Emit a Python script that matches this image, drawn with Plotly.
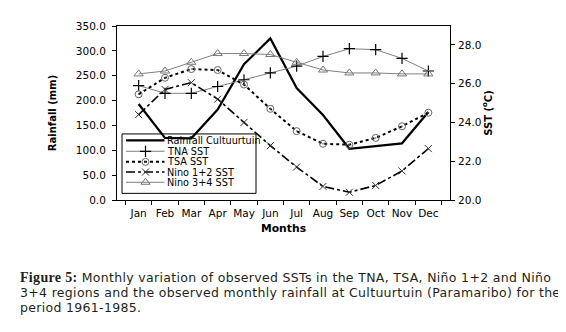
import plotly.graph_objects as go

months = ['Jan', 'Feb', 'Mar', 'Apr', 'May', 'Jun', 'Jul', 'Aug', 'Sep', 'Oct', 'Nov', 'Dec']
rainfall = [193, 125, 124, 182, 273, 325, 225, 171, 103, 108, 114, 177]
tna_sst = [25.9, 25.5, 25.5, 25.85, 26.2, 26.55, 26.9, 27.4, 27.8, 27.75, 27.3, 26.65]
tsa_sst = [25.45, 26.3, 26.75, 26.7, 25.95, 24.7, 23.55, 22.9, 22.85, 23.2, 23.8, 24.5]
nino12_sst = [24.4, 25.7, 26.05, 25.2, 24.0, 22.8, 21.7, 20.7, 20.4, 20.75, 21.5, 22.65]
nino34_sst = [26.5, 26.65, 27.1, 27.55, 27.55, 27.5, 27.1, 26.7, 26.55, 26.55, 26.5, 26.5]

legend_names = ['Rainfall Cultuurtuin', 'TNA SST', 'TSA SST', 'Nino 1+2 SST', 'Nino 3+4 SST']

FONT = 'DejaVu Sans, Liberation Sans, sans-serif'

styles = [
    dict(line=dict(color='black', width=2.2), mode='lines', marker=dict()),
    dict(line=dict(color='#808080', width=1), mode='lines+markers',
         marker=dict(symbol='cross-thin', size=8, line=dict(color='black', width=1.2))),
    dict(line=dict(color='black', width=2, dash='dot'), mode='lines+markers',
         marker=dict(symbol='circle-dot', size=7, color='rgba(0,0,0,0)', line=dict(color='#666', width=1))),
    dict(line=dict(color='black', width=1.6, dash='dashdot'), mode='lines+markers',
         marker=dict(symbol='x-thin', size=7, line=dict(color='#333', width=1))),
    dict(line=dict(color='#808080', width=1), mode='lines+markers',
         marker=dict(symbol='triangle-up-open', size=8, color='#777', line=dict(color='#777', width=1))),
]

fig = go.Figure()
fig.add_trace(go.Scatter(x=months, y=rainfall, name=legend_names[0], yaxis='y',
                         showlegend=False, **styles[0]))
for name, vals, st in zip(legend_names[1:], [tna_sst, tsa_sst, nino12_sst, nino34_sst], styles[1:]):
    fig.add_trace(go.Scatter(x=months, y=vals, name=name, yaxis='y2', showlegend=False, **st))

# manual legend (pixel-like coordinates on hidden overlay axes)
leg_y = [131.5, 142.5, 153.2, 163.5, 173.8]
for name, ly, st in zip(legend_names, leg_y, styles):
    fig.add_trace(go.Scatter(x=[118, 156.5], y=[ly, ly], xaxis='x3', yaxis='y3', mode='lines',
                             line=st['line'], showlegend=False, hoverinfo='skip'))
    if st['mode'] == 'lines+markers':
        fig.add_trace(go.Scatter(x=[137.5], y=[ly], xaxis='x3', yaxis='y3', mode='markers',
                                 marker=st['marker'], showlegend=False, hoverinfo='skip'))
    fig.add_annotation(x=157, y=ly, xref='x3', yref='y3', text=name, showarrow=False,
                       xanchor='left', yanchor='middle', font=dict(family=FONT, size=9.7, color='black'))
fig.add_shape(type='rect', x0=114, x1=248, y0=125, y1=185, xref='x3', yref='y3',
              line=dict(color='black', width=1), fillcolor='rgba(0,0,0,0)')

tickfont = dict(family=FONT, size=10.5, color='black')
axis_common = dict(showline=True, linecolor='black', linewidth=1, ticks='outside', ticklen=4,
                   tickcolor='black', showgrid=False, zeroline=False, tickfont=tickfont)
inner = dict(showline=False, ticks='inside', tickcolor='black', showgrid=False, zeroline=False,
             showticklabels=False)

fig.update_layout(
    width=566, height=332,
    margin=dict(l=109, r=124, t=16, b=140),
    paper_bgcolor='white', plot_bgcolor='white',
    showlegend=False,
    xaxis=dict(type='category', categoryorder='array', categoryarray=months, tickson='boundaries',
               mirror=True, ticklabelstandoff=3, tickangle=0,
               title=dict(text='<b>Months</b>', font=dict(family=FONT, size=10.8, color='black'), standoff=6),
               **axis_common),
    yaxis=dict(range=[0, 350], dtick=50, tickformat='.1f', ticklabelstandoff=4,
               title=dict(text='<b>Rainfall (mm)</b>', font=dict(family=FONT, size=10, color='black'), standoff=17),
               **axis_common),
    yaxis2=dict(range=[20, 28.97], tick0=20, dtick=2, tickformat='.1f', overlaying='y', side='right',
                ticklabelstandoff=1,
                title=dict(text='<b>SST (<sup>o</sup>C)</b>', font=dict(family=FONT, size=10, color='black'), standoff=0),
                **axis_common),
    xaxis3=dict(overlaying='x', range=[109, 442], visible=False, anchor='y3'),
    yaxis3=dict(overlaying='y', range=[191.7, 16], visible=False, anchor='x3'),
    xaxis4=dict(overlaying='x', range=[0, 12], dtick=1, tick0=0, ticklen=3, anchor='y', **inner),
    yaxis4=dict(overlaying='y', range=[0, 350], dtick=50, ticklen=4, side='left', anchor='x', **inner),
    yaxis5=dict(overlaying='y', range=[20, 28.97], tick0=20, dtick=2, ticklen=5, side='right', anchor='x', **inner),
)

cap_font = dict(family='DejaVu Sans, sans-serif', size=12.5, color='#231f20')
LS = "<span style='letter-spacing:0.32px'>"
caption = [
    LS + "<span style='font-family:Liberation Serif;font-weight:bold;font-size:14px'>Figure 5:</span> "
    "Monthly variation of observed SSTs in the TNA, TSA, Niño 1+2 and Niño</span>",
    LS + "3+4 regions and the observed monthly rainfall at Cultuurtuin (Paramaribo) for the</span>",
    LS + "period 1961-1985.</span>",
]
for line, py in zip(caption, [270, 285, 300]):
    fig.add_annotation(x=(10 - 109) / 333, y=(191.7 - py) / 175.7, xref='paper', yref='paper',
                       text=line, showarrow=False, xanchor='left', yanchor='middle', font=cap_font)

fig.write_html('out.html')
